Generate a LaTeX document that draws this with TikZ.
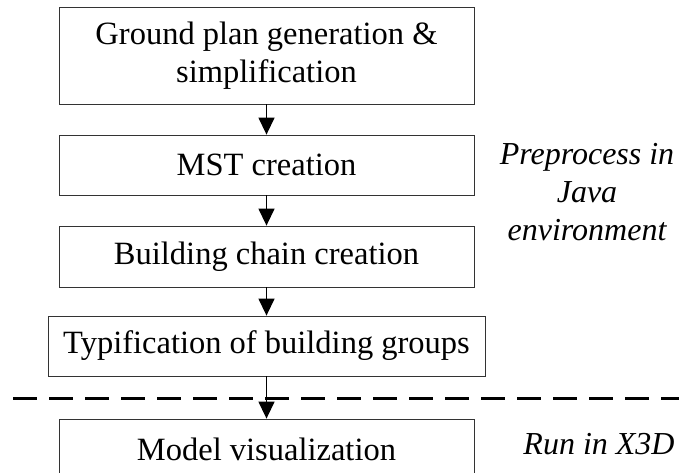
\documentclass[tikz,border=0pt]{standalone}
\usepackage{fontspec}
\setmainfont{Liberation Serif}
\usetikzlibrary{arrows.meta}

\tikzset{
    stepbox/.style={draw=black!80, line width=0.8pt, minimum width=415pt, minimum height=60pt,
        inner sep=0pt, align=center, font=\fontsize{32.5}{38.5}\selectfont},
    flow/.style={line width=1.4pt, -{Triangle[width=16pt,length=17pt]}},
    envlabel/.style={align=center, font=\fontsize{32}{38}\selectfont\itshape}
}

\begin{document}
\begin{tikzpicture}[x=1pt, y=-1pt]
    \useasboundingbox (0,0) rectangle (679,473);
    \clip (0,0) rectangle (679,473);

    % Cajas
    \node[stepbox, minimum height=97pt] (plan) at (266.5,55.5) {Ground plan generation \&\\simplification};
    \node[stepbox] (mst) at (266.5,165) {MST creation};
    \node[stepbox, minimum height=61pt] (chain) at (266.5,256.5) {Building chain creation};
    \node[stepbox, minimum width=437pt] (typif) at (266.5,346) {Typification of building groups};
    \node[stepbox] (visual) at (266.5,449) {Model visualization};

    % Separacion
    \coordinate (sepL) at (13,398);
    \coordinate (sepR) at (679,398);
    \draw[line width=3pt, dash pattern=on 24pt off 12pt] (sepL) -- (sepR);

    % Flechas
    \draw[flow] (plan) -- (mst);
    \draw[flow] (mst) -- (chain);
    \draw[flow] (chain) -- (typif);
    \draw[flow] (typif) -- (visual);

    % Etiquetas
    \node[envlabel] (java) at (587,192) {Preprocess in\\Java\\environment};
    \node[envlabel] (x3d) at (599,444) {Run in X3D};
\end{tikzpicture}
\end{document}
